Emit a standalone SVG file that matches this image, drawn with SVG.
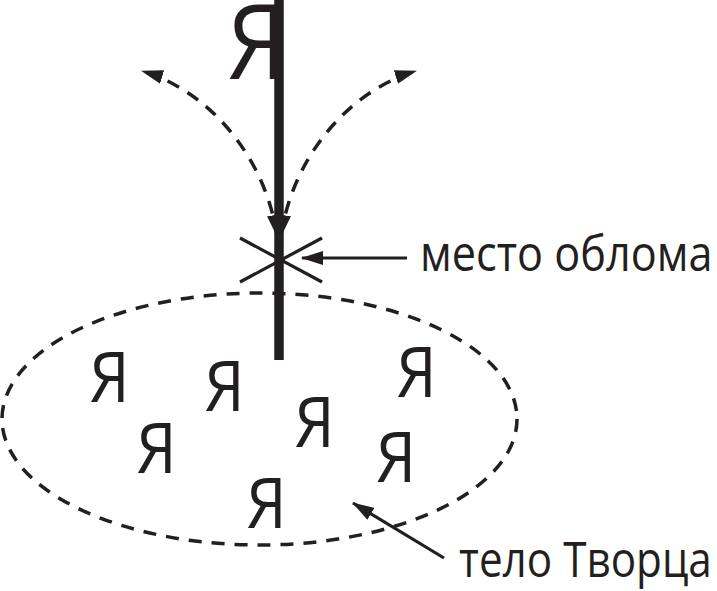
<svg xmlns="http://www.w3.org/2000/svg" width="717" height="591" viewBox="0 0 717 591">
<style>
.t{font-family:"Open Sans","Noto Sans","DejaVu Sans",sans-serif;fill:#231f20}
.ya{font-size:69px;text-anchor:middle}
.lbl{font-size:50px}
.dash{fill:none;stroke:#231f20;stroke-width:3.5;stroke-dasharray:13 10}
.thin{fill:none;stroke:#231f20;stroke-width:3.2}
</style>
<defs>
<marker id="ah" markerUnits="userSpaceOnUse" viewBox="0 0 22 14" markerWidth="22" markerHeight="14" refX="21" refY="7" orient="auto-start-reverse">
<path d="M0,0 L22,7 L0,14 z" fill="#231f20"/>
</marker>
</defs>
<rect width="717" height="591" fill="#ffffff"/>

<g id="body">
<ellipse cx="259.5" cy="419" rx="257.5" ry="126" class="dash" stroke-width="3.2" stroke-dasharray="14 11"/>
</g>

<g id="connectors">
<path class="dash" d="M277,236 C266,160 212,92 142,71" marker-start="url(#ah)" marker-end="url(#ah)"/>
<path class="dash" d="M281,236 C292,160 346,92 416,71" marker-start="url(#ah)" marker-end="url(#ah)"/>
<line x1="279" y1="0" x2="279" y2="360" stroke="#231f20" stroke-width="9.5"/>
<line class="thin" x1="407" y1="258" x2="302" y2="258" marker-end="url(#ah)"/>
<line class="thin" x1="444" y1="558" x2="353" y2="503" marker-end="url(#ah)"/>
</g>

<g id="break-point">
<line class="thin" x1="240" y1="238" x2="322" y2="282"/>
<line class="thin" x1="240" y1="282" x2="322" y2="238"/>
</g>

<g id="big-ya">
<text class="t" font-size="104" text-anchor="middle" transform="translate(257,79) scale(0.9,1)">Я</text>
</g>

<g id="small-ya">
<text class="t ya" transform="translate(109.5,402) scale(0.92,1)">Я</text>
<text class="t ya" transform="translate(224.5,411) scale(0.92,1)">Я</text>
<text class="t ya" transform="translate(416.5,397) scale(0.92,1)">Я</text>
<text class="t ya" transform="translate(156.5,473) scale(0.92,1)">Я</text>
<text class="t ya" transform="translate(314.5,447) scale(0.92,1)">Я</text>
<text class="t ya" transform="translate(396,482) scale(0.92,1)">Я</text>
<text class="t ya" transform="translate(266.5,528) scale(0.92,1)">Я</text>
</g>

<g id="label-break">
<text class="t lbl" transform="translate(420,271) scale(0.865,1)">место облома</text>
</g>

<g id="label-body">
<text class="t lbl" transform="translate(459,577) scale(0.845,1)">тело Творца</text>
</g>
</svg>
